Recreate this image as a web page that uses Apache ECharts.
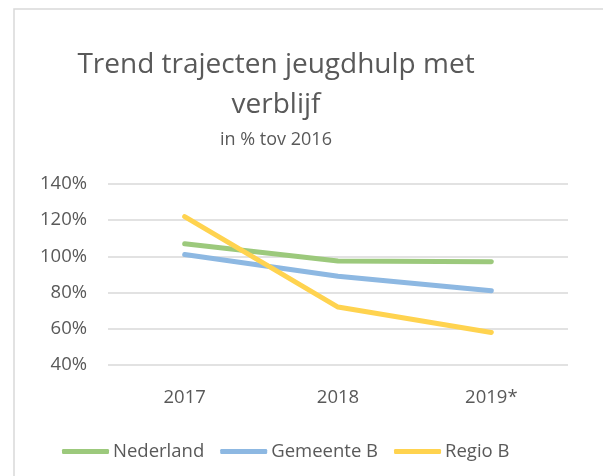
<!DOCTYPE html>
<html>
<head>
<meta charset="utf-8">
<script src="https://cdn.jsdelivr.net/npm/echarts@6/dist/echarts.min.js"></script>
<style>
  html, body { margin: 0; padding: 0; background: #fff; }
  #root { width: 603px; height: 476px; }
</style>
</head>
<body>
<div id="root"></div>
<script>
// jaren op de x-as
var jaren = ['2017', '2018', '2019*'];
// index in % t.o.v. 2016
var nederland = [107, 97.5, 97];
var gemeenteB = [101, 89, 81];
var regioB = [122, 72, 58];
var reeksNamen = ['Nederland', 'Gemeente B', 'Regio B'];

var tekstKleur = '#595959';
var lettertype = 'Open Sans';

function lijn(naam, data, kleur) {
  return {
    name: naam,
    type: 'line',
    data: data,
    symbol: 'none',
    lineStyle: { width: 5, color: kleur, cap: 'round', join: 'round' },
    itemStyle: { color: kleur }
  };
}

var option = {
  backgroundColor: '#fff',
  animation: false,
  textStyle: { fontFamily: lettertype },
  title: {
    text: 'Trend trajecten jeugdhulp met\nverblijf',
    subtext: 'in % tov 2016',
    left: 271,
    textAlign: 'center',
    top: 40,
    itemGap: 6,
    textStyle: { fontSize: 28, fontWeight: 'normal', color: tekstKleur, lineHeight: 40, fontFamily: lettertype },
    subtextStyle: { fontSize: 18, color: tekstKleur, fontFamily: lettertype }
  },
  //kader van de grafiek
  graphic: [{
    type: 'rect',
    shape: { x: 14, y: 9, width: 620, height: 500 },
    style: { fill: 'none', stroke: '#d9d9d9', lineWidth: 1.5 },
    silent: true
  }],
  legend: {
    bottom: 10,
    left: 57,
    data: reeksNamen,
    icon: 'roundRect',
    itemWidth: 47,
    itemHeight: 5,
    itemGap: 16,
    textStyle: { fontSize: 18.5, color: tekstKleur, padding: [0, 0, 0, -1] }
  },
  grid: {
    left: 108,
    right: 35,
    top: 184,
    bottom: 111
  },
  xAxis: {
    type: 'category',
    data: jaren,
    boundaryGap: true,
    axisLine: { show: false },
    axisTick: { show: false },
    axisLabel: { fontSize: 18.5, color: tekstKleur, margin: 23 }
  },
  yAxis: {
    type: 'value',
    min: 40,
    max: 140,
    interval: 20,
    axisLine: { show: false },
    axisTick: { show: false },
    axisLabel: {
      fontSize: 18.5,
      color: tekstKleur,
      margin: 21,
      formatter: function (v) { return v + '%'; }
    },
    splitLine: { lineStyle: { color: '#d9d9d9', width: 1.5 } }
  },
  series: [
    lijn(reeksNamen[0], nederland, '#9CC97C'),
    lijn(reeksNamen[1], gemeenteB, '#8DB8E2'),
    lijn(reeksNamen[2], regioB, '#FFD34F')
  ]
};

var myChart = echarts.init(document.getElementById('root'));
myChart.setOption(option);
</script>
</body>
</html>
